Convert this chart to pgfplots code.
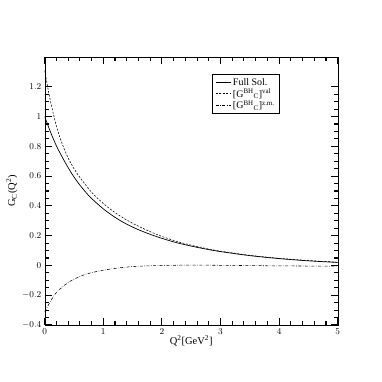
\documentclass[border=0pt]{standalone}
\usepackage{fontspec}
\setmainfont{Liberation Serif}
\usepackage{pgfplots}
\pgfplotsset{compat=1.18}
\begin{document}
\begin{tikzpicture}
\begin{axis}[
  at={(44.7bp,57bp)}, anchor=south west,
  width=293bp, height=268bp, scale only axis,
  xmin=0, xmax=5, ymin=-0.4, ymax=1.4,
  xtick={0,1,2,3,4,5},
  ytick={-0.4,-0.2,0,0.2,0.4,0.6,0.8,1,1.2},
  minor x tick num=4, minor y tick num=3,
  tick align=inside,
  major tick length=0.25cm, minor tick length=0.14cm,
  every tick/.style={black, line width=1.1pt},
  tick label style={font=\fontsize{9.5}{10}\selectfont},
  label style={font=\fontsize{10.5}{12}\selectfont},
  xlabel={Q\textsuperscript{2}[GeV\textsuperscript{2}]},
  ylabel={G\textsubscript{C}(Q\textsuperscript{2})},
  xlabel style={yshift=5bp},
  ylabel style={yshift=-2bp},
  legend style={at={(0.571,0.935)}, anchor=north west, draw=black,
    line width=0.6pt, font=\fontsize{10}{11}\selectfont,
    inner xsep=3bp, inner ysep=1.5bp, row sep=-2bp, cells={anchor=west}},
  legend image code/.code={\draw[#1] (0bp,0bp) -- (15bp,0bp);},
  legend cell align=left,
]
\addplot[black, line width=0.7pt, smooth] coordinates {
  (0,1.000) (0.1,0.895) (0.2,0.803) (0.3,0.727) (0.4,0.657) (0.5,0.594)
  (0.6,0.540) (0.7,0.492) (0.8,0.450) (1.0,0.380) (1.2,0.323) (1.4,0.277)
  (1.6,0.240) (1.8,0.209) (2.0,0.182) (2.25,0.153) (2.5,0.130) (2.75,0.110)
  (3.0,0.093) (3.5,0.066) (4.0,0.046) (4.5,0.031) (5.0,0.020)
};
\addlegendentry{Full Sol.}
\addplot[black, line width=0.55pt, smooth, dash pattern=on 2bp off 1.5bp] coordinates {
  (0,1.310) (0.05,1.200) (0.1,1.100) (0.2,0.935) (0.3,0.815) (0.4,0.722)
  (0.5,0.650) (0.6,0.592) (0.8,0.492) (1.0,0.416) (1.2,0.355) (1.4,0.305)
  (1.6,0.263) (1.8,0.227) (2.0,0.195) (2.25,0.162) (2.5,0.136) (2.75,0.114)
  (3.0,0.096) (3.5,0.068) (4.0,0.048) (4.5,0.033) (5.0,0.022)
};
\addlegendentry{[G\textsuperscript{BH}\textsubscript{C}]\textsuperscript{val}}
\addplot[black, line width=0.55pt, smooth, dash pattern=on 3bp off 1.5bp on 0.6bp off 1.5bp] coordinates {
  (0,-0.310) (0.1,-0.240) (0.19,-0.186) (0.3,-0.145) (0.42,-0.110)
  (0.55,-0.083) (0.7,-0.059) (0.85,-0.044) (1.0,-0.032) (1.25,-0.017)
  (1.5,-0.008) (1.75,-0.003) (2.0,0.000) (2.5,0.002) (3.0,0.001)
  (3.5,-0.001) (4.0,-0.003) (4.5,-0.004) (5.0,-0.005)
};
\addlegendentry{[G\textsuperscript{BH}\textsubscript{C}]\textsuperscript{z.m.}}
\end{axis}
\path (0bp,0bp) rectangle (382bp,382bp);
\end{tikzpicture}
\end{document}
